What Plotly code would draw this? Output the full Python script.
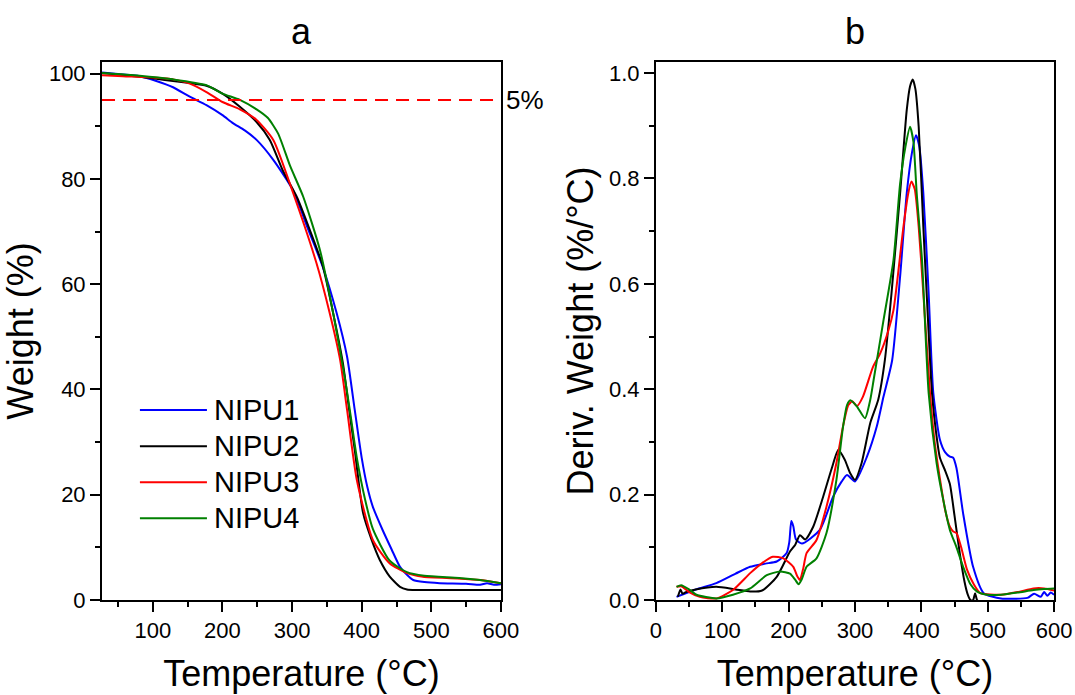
import plotly.graph_objects as go

# ---------------- data ----------------
names = ["NIPU1", "NIPU2", "NIPU3", "NIPU4"]
colors = ["#0000FF", "#000000", "#FF0000", "#008000"]

# (a) TGA: temperature (°C) vs weight (%)
tga_T1 = [27, 50, 81, 105, 129, 153, 177, 200, 215, 232, 249, 273, 301, 322, 344, 364, 379, 390, 400, 408, 416, 430, 443, 455, 465, 474, 490, 512, 550, 570, 580, 590, 600]
tga_W1 = [100.2, 99.9, 99.5, 98.6, 97.4, 95.6, 94.0, 92.1, 90.6, 89.2, 87.4, 83.6, 77.9, 70.8, 63.3, 54.5, 46.2, 36.1, 27.0, 21.5, 17.7, 13.3, 9.6, 6.3, 4.8, 3.8, 3.4, 3.2, 3.1, 2.9, 3.2, 2.9, 3.0]
tga_T2 = [27, 50, 81, 105, 129, 153, 177, 200, 225, 249, 268, 287, 307, 322, 344, 359, 373, 382, 390, 402, 414, 426, 440, 455, 465, 479, 500, 550, 600]
tga_W2 = [100.1, 99.8, 99.4, 99.0, 98.6, 98.2, 97.7, 96.2, 93.7, 90.8, 87.4, 81.5, 76.5, 71.5, 63.5, 54.5, 45.0, 36.1, 28.5, 16.5, 11.5, 7.6, 4.5, 2.5, 2.0, 1.9, 1.9, 1.9, 1.9]
tga_T3 = [27, 57, 105, 129, 153, 177, 200, 225, 249, 273, 301, 335, 354, 369, 379, 393, 416, 440, 465, 488, 537, 570, 600]
tga_W3 = [99.7, 99.5, 99.2, 98.9, 98.1, 96.5, 94.6, 93.2, 91.2, 87.4, 77.5, 64.0, 54.5, 45.6, 36.1, 22.8, 11.4, 7.0, 5.1, 4.4, 4.1, 3.8, 3.2]
tga_T4 = [27, 81, 129, 177, 200, 225, 249, 265, 280, 297, 316, 340, 359, 376, 383, 393, 405, 416, 440, 465, 490, 540, 570, 600]
tga_W4 = [100.1, 99.6, 98.9, 97.8, 96.2, 95.0, 93.2, 91.6, 88.6, 82.5, 76.6, 66.5, 54.5, 42.0, 36.0, 27.0, 19.0, 13.5, 7.5, 5.3, 4.6, 4.2, 3.8, 3.2]
loss_level = 95
loss_label = "5%"

# (b) DTG: temperature (°C) vs derivative weight (%/°C)
dtg_T1 = [31, 60, 91, 120, 142, 165, 182, 197, 201, 204, 207, 211, 220, 247, 267, 280, 288, 300, 318, 333, 343, 356, 368, 378, 386, 392, 397, 403, 411, 418, 428, 436, 443, 448, 453, 463, 478, 494, 520, 560, 570, 580, 585, 590, 595, 600]
dtg_D1 = [0.006, 0.02, 0.032, 0.05, 0.063, 0.069, 0.073, 0.089, 0.11, 0.15, 0.14, 0.115, 0.107, 0.133, 0.196, 0.225, 0.237, 0.225, 0.272, 0.33, 0.386, 0.455, 0.614, 0.772, 0.85, 0.882, 0.86, 0.772, 0.582, 0.393, 0.304, 0.28, 0.272, 0.27, 0.25, 0.164, 0.063, 0.013, 0.003, 0.004, 0.012, 0.006, 0.015, 0.008, 0.014, 0.01]
dtg_T2 = [33, 37, 40, 45, 60, 91, 120, 142, 160, 182, 202, 210, 217, 225, 237, 252, 265, 275, 285, 293, 300, 310, 323, 335, 345, 355, 368, 378, 383, 387, 391, 396, 403, 408, 416, 422, 428, 436, 443, 450, 458, 465, 470, 474, 478, 481, 484, 490, 500, 550, 600]
dtg_D2 = [0.006, 0.02, 0.012, 0.015, 0.02, 0.025, 0.02, 0.016, 0.018, 0.044, 0.092, 0.105, 0.123, 0.115, 0.139, 0.196, 0.25, 0.285, 0.265, 0.24, 0.228, 0.26, 0.336, 0.38, 0.455, 0.582, 0.772, 0.93, 0.975, 0.988, 0.97, 0.898, 0.708, 0.582, 0.393, 0.32, 0.27, 0.245, 0.22, 0.16, 0.088, 0.035, 0.01, 0.0, 0.0, 0.013, 0.0, -0.005, -0.005, -0.005, -0.005]
dtg_T3 = [31, 38, 50, 66, 91, 116, 142, 160, 176, 192, 207, 213, 217, 222, 227, 242, 257, 272, 282, 290, 296, 303, 312, 327, 338, 350, 358, 373, 380, 385, 390, 396, 403, 413, 420, 428, 436, 443, 448, 453, 460, 469, 479, 489, 520, 545, 569, 585, 600]
dtg_D3 = [0.025, 0.026, 0.015, 0.006, 0.003, 0.019, 0.051, 0.07, 0.082, 0.079, 0.063, 0.045, 0.038, 0.06, 0.089, 0.114, 0.177, 0.26, 0.33, 0.37, 0.377, 0.368, 0.386, 0.442, 0.468, 0.51, 0.55, 0.708, 0.77, 0.794, 0.78, 0.708, 0.582, 0.393, 0.3, 0.23, 0.17, 0.139, 0.13, 0.127, 0.1, 0.057, 0.03, 0.013, 0.01, 0.015, 0.022, 0.022, 0.018]
dtg_T4 = [31, 38, 50, 61, 91, 116, 142, 167, 187, 202, 210, 215, 220, 227, 242, 257, 272, 282, 288, 293, 303, 315, 323, 328, 343, 358, 368, 376, 383, 388, 393, 401, 411, 423, 433, 443, 453, 463, 474, 484, 500, 520, 545, 569, 585, 600]
dtg_D4 = [0.025, 0.028, 0.02, 0.01, 0.003, 0.01, 0.022, 0.047, 0.054, 0.05, 0.038, 0.03, 0.04, 0.063, 0.079, 0.127, 0.228, 0.329, 0.37, 0.379, 0.367, 0.345, 0.38, 0.417, 0.531, 0.645, 0.79, 0.86, 0.898, 0.87, 0.772, 0.645, 0.393, 0.26, 0.19, 0.133, 0.1, 0.063, 0.03, 0.016, 0.01, 0.01, 0.014, 0.019, 0.021, 0.022]

tga = [(tga_T1, tga_W1), (tga_T2, tga_W2), (tga_T3, tga_W3), (tga_T4, tga_W4)]
dtg = [(dtg_T1, dtg_D1), (dtg_T2, dtg_D2), (dtg_T3, dtg_D3), (dtg_T4, dtg_D4)]

# ---------------- figure ----------------
FONT = "Liberation Sans, Arial, sans-serif"
TITLE_SIZE = 36
fig = go.Figure()

for (t, w), n, c in zip(tga, names, colors):
    fig.add_trace(go.Scatter(x=t, y=w, mode="lines", name=n, showlegend=False,
                             line=dict(color=c, width=2, shape="spline", smoothing=0.6),
                             xaxis="x", yaxis="y"))
for (t, d), n, c in zip(dtg, names, colors):
    fig.add_trace(go.Scatter(x=t, y=d, mode="lines", name=n, showlegend=False,
                             line=dict(color=c, width=2, shape="spline", smoothing=0.6),
                             xaxis="x2", yaxis="y2"))

axis_common = dict(showline=True, linewidth=2, linecolor="black", mirror=True,
                   ticks="outside", ticklen=10, tickwidth=2, tickcolor="black",
                   showgrid=False, zeroline=False, automargin=False,
                   tickfont=dict(family=FONT, size=22, color="black"))

fig.update_layout(
    width=1075, height=695,
    margin=dict(l=0, r=0, t=0, b=0, pad=0, autoexpand=False),
    paper_bgcolor="white", plot_bgcolor="white",
    font=dict(family=FONT, color="black"),
    xaxis=dict(domain=[0.0949, 0.466], range=[27, 600], dtick=100, tick0=0,
               minor=dict(ticks="outside", ticklen=5, tickwidth=2, dtick=50, tick0=0, tickcolor="black"),
               title=dict(text="Temperature (°C)", font=dict(family=FONT, size=TITLE_SIZE), standoff=18),
               anchor="y", **axis_common),
    yaxis=dict(domain=[0.1367, 0.9108], range=[0, 102.2], dtick=20, tick0=0,
               minor=dict(ticks="outside", ticklen=5, tickwidth=2, dtick=10, tick0=0, tickcolor="black"),
               title=dict(text="Weight (%)", font=dict(family=FONT, size=TITLE_SIZE), standoff=4),
               anchor="x", **axis_common),
    xaxis2=dict(domain=[0.6102, 0.9805], range=[0, 600], dtick=100, tick0=0,
                minor=dict(ticks="outside", ticklen=5, tickwidth=2, dtick=50, tick0=0, tickcolor="black"),
                title=dict(text="Temperature (°C)", font=dict(family=FONT, size=TITLE_SIZE), standoff=18),
                anchor="y2", **axis_common),
    yaxis2=dict(domain=[0.1367, 0.9108], range=[0, 1.021], dtick=0.2, tick0=0, tickformat=".1f",
                minor=dict(ticks="outside", ticklen=5, tickwidth=2, dtick=0.1, tick0=0, tickcolor="black"),
                title=dict(text="Deriv. Weight (%/°C)", font=dict(family=FONT, size=TITLE_SIZE), standoff=4),
                anchor="x2", **axis_common),
)

# 5% weight-loss reference line
fig.add_shape(type="line", xref="x domain", yref="y", x0=0, x1=1, y0=loss_level, y1=loss_level,
              line=dict(color="#FF0000", width=2, dash="13px,8px"))
fig.add_annotation(xref="x", yref="y", x=600, y=loss_level, text=loss_label, showarrow=False,
                   xanchor="left", yanchor="middle", xshift=3,
                   font=dict(family=FONT, size=26, color="black"))

# panel titles
for ref, label in [("x domain", "a"), ("x2 domain", "b")]:
    fig.add_annotation(xref=ref, yref="paper", x=0.5, y=0.955, text=label, showarrow=False,
                       xanchor="center", yanchor="middle",
                       font=dict(family=FONT, size=TITLE_SIZE, color="black"))

# legend (drawn manually inside panel a)
leg_y = [0.353, 0.286, 0.219, 0.152]
for n, c, yy in zip(names, colors, leg_y):
    fig.add_shape(type="line", xref="x domain", yref="y domain", x0=0.095, x1=0.263, y0=yy, y1=yy,
                  line=dict(color=c, width=2))
    fig.add_annotation(xref="x domain", yref="y domain", x=0.276, y=yy, text=n, showarrow=False,
                       xanchor="left", yanchor="middle",
                       font=dict(family=FONT, size=29, color="black"))

fig.write_html("out.html")
